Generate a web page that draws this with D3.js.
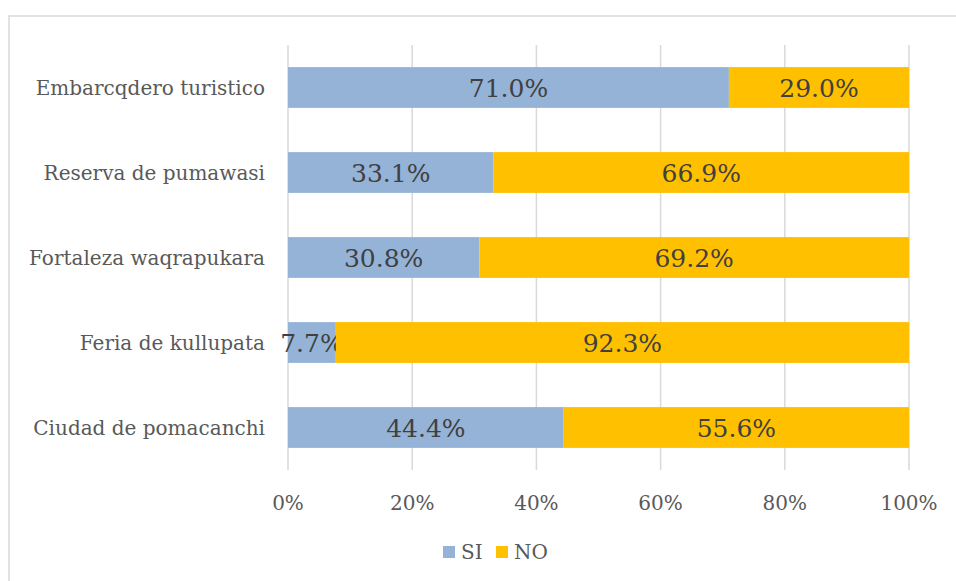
<!DOCTYPE html>
<html>
<head>
<meta charset="utf-8">
<script src="https://cdn.jsdelivr.net/npm/d3@7"></script>
<style>
  body { margin: 0; background: #fff; }
  text { font-family: "DejaVu Serif", serif; }
</style>
</head>
<body>
<svg id="chart" width="956" height="581"></svg>
<script>
const categories = ['Embarcqdero turistico', 'Reserva de pumawasi', 'Fortaleza waqrapukara', 'Feria de kullupata', 'Ciudad de pomacanchi'];
const siValues = [71.0, 33.1, 30.8, 7.7, 44.4];
const noValues = [29.0, 66.9, 69.2, 92.3, 55.6];
const seriesNames = ['SI', 'NO'];
const seriesColors = ['#95B3D7', '#FFC000'];
const tickValues = [0, 20, 40, 60, 80, 100];

const svg = d3.select('#chart');

// outer frame
svg.append('rect')
  .attr('x', 9).attr('y', 16)
  .attr('width', 960).attr('height', 600)
  .attr('fill', 'none')
  .attr('stroke', '#d9d9d9')
  .attr('stroke-width', 1.5);

const x = d3.scaleLinear().domain([0, 100]).range([288, 909]);
const y = d3.scaleBand().domain(categories).range([45, 470]).paddingInner(0.52).paddingOuter(0.26);

// gridlines
svg.append('g')
  .selectAll('line')
  .data(tickValues)
  .join('line')
  .attr('x1', d => x(d)).attr('x2', d => x(d))
  .attr('y1', 45).attr('y2', 470)
  .attr('stroke', '#d9d9d9')
  .attr('stroke-width', 1.5);

const rows = categories.map((c, i) => ({ cat: c, si: siValues[i], no: noValues[i] }));
const stack = d3.stack().keys(['si', 'no'])(rows);

const layers = svg.append('g')
  .selectAll('g')
  .data(stack)
  .join('g')
  .attr('fill', (d, i) => seriesColors[i]);

layers.selectAll('rect')
  .data(d => d)
  .join('rect')
  .attr('x', d => x(d[0]))
  .attr('width', d => x(d[1]) - x(d[0]))
  .attr('y', d => y(d.data.cat))
  .attr('height', y.bandwidth());

layers.selectAll('text')
  .data(d => d)
  .join('text')
  .attr('x', d => (x(d[0]) + x(d[1])) / 2)
  .attr('y', d => y(d.data.cat) + y.bandwidth() / 2)
  .attr('dy', '0.36em')
  .attr('text-anchor', 'middle')
  .attr('fill', '#404040')
  .attr('font-size', 25)
  .text(d => (d[1] - d[0]).toFixed(1) + '%');

// category labels
svg.append('g')
  .selectAll('text')
  .data(categories)
  .join('text')
  .attr('x', 265)
  .attr('y', d => y(d) + y.bandwidth() / 2)
  .attr('dy', '0.36em')
  .attr('text-anchor', 'end')
  .attr('fill', '#595959')
  .attr('font-size', 20)
  .text(d => d);

// x tick labels
svg.append('g')
  .selectAll('text')
  .data(tickValues)
  .join('text')
  .attr('x', d => x(d))
  .attr('y', 503)
  .attr('dy', '0.36em')
  .attr('text-anchor', 'middle')
  .attr('fill', '#595959')
  .attr('font-size', 20)
  .text(d => d + '%');

// legend
const legendX = [443, 496];
const legend = svg.append('g')
  .selectAll('g')
  .data(seriesNames)
  .join('g')
  .attr('transform', (d, i) => `translate(${legendX[i]},552)`);
legend.append('rect')
  .attr('x', 0).attr('y', -6)
  .attr('width', 12).attr('height', 12)
  .attr('fill', (d, i) => seriesColors[i]);
legend.append('text')
  .attr('x', 18)
  .attr('dy', '0.36em')
  .attr('fill', '#595959')
  .attr('font-size', 20)
  .text(d => d);
</script>
</body>
</html>
